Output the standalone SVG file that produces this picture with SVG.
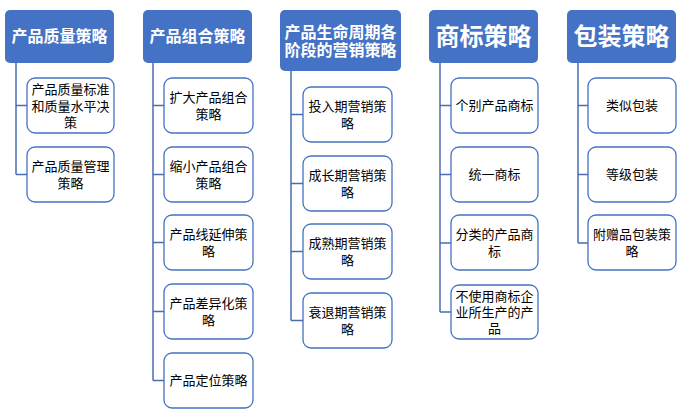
<svg xmlns="http://www.w3.org/2000/svg" width="685" height="417" viewBox="0 0 685 417">
<style>
.h{fill:#4472C4;}
.c{fill:#fff;stroke:#4472C4;stroke-width:1.3;}
.ht{fill:#fff;font-family:"Liberation Sans","Noto Sans CJK SC",sans-serif;font-weight:bold;font-size:16px;text-anchor:middle;dominant-baseline:central;}
.hb{font-size:24px;}
.ct{fill:#000;font-family:"Liberation Sans","Noto Sans CJK SC",sans-serif;font-size:13px;text-anchor:middle;dominant-baseline:central;}
.ln{fill:none;stroke:#4A6DB0;stroke-width:1.5;}
</style>
<g id="connectors">
<path class="ln" d="M16 63V174.5M16 105.5H27M16 174.5H27"/>
<path class="ln" d="M153 63V380.5M153 105.5H164M153 174.5H164M153 242.5H164M153 311.5H164M153 380.5H164"/>
<path class="ln" d="M291 71V320.5M291 114.5H303M291 183.5H303M291 251.5H303M291 320.5H303"/>
<path class="ln" d="M440 63V312M440 105.5H451M440 174.5H451M440 243H451M440 312H451"/>
<path class="ln" d="M578 63V243M578 105.5H588M578 174.5H588M578 243H588"/>
</g>
<g id="h1"><rect class="h" x="5" y="10" width="109" height="53" rx="5"/><text class="ht" x="59.5" y="36.5">产品质量策略</text></g>
<g id="h2"><rect class="h" x="143" y="10" width="109" height="53" rx="5"/><text class="ht" x="197.5" y="36.5">产品组合策略</text></g>
<g id="h3"><rect class="h" x="280" y="10" width="121" height="61" rx="5"/><text class="ht" x="340.5" y="32">产品生命周期各<tspan x="340.5" dy="18">阶段的营销策略</tspan></text></g>
<g id="h4"><rect class="h" x="429" y="10" width="109" height="53" rx="5"/><text class="ht hb" x="483.5" y="36.5">商标策略</text></g>
<g id="h5"><rect class="h" x="567" y="10" width="109" height="53" rx="5"/><text class="ht hb" x="621.5" y="36.5">包装策略</text></g>

<g id="c1a"><rect class="c" x="27" y="78" width="87" height="55" rx="8"/><text class="ct" x="70.5" y="89">产品质量标准<tspan x="70.5" dy="16.5">和质量水平决</tspan><tspan x="70.5" dy="16.5">策</tspan></text></g>
<g id="c1b"><rect class="c" x="27" y="147" width="87" height="55" rx="8"/><text class="ct" x="70.5" y="166">产品质量管理<tspan x="70.5" dy="16.5">策略</tspan></text></g>

<g id="c2a"><rect class="c" x="164" y="78" width="89" height="55" rx="8"/><text class="ct" x="208.5" y="97">扩大产品组合<tspan x="208.5" dy="16.5">策略</tspan></text></g>
<g id="c2b"><rect class="c" x="164" y="147" width="89" height="55" rx="8"/><text class="ct" x="208.5" y="166">缩小产品组合<tspan x="208.5" dy="16.5">策略</tspan></text></g>
<g id="c2c"><rect class="c" x="164" y="215" width="89" height="55" rx="8"/><text class="ct" x="208.5" y="234">产品线延伸策<tspan x="208.5" dy="16.5">略</tspan></text></g>
<g id="c2d"><rect class="c" x="164" y="284" width="89" height="55" rx="8"/><text class="ct" x="208.5" y="303">产品差异化策<tspan x="208.5" dy="16.5">略</tspan></text></g>
<g id="c2e"><rect class="c" x="164" y="353" width="89" height="55" rx="8"/><text class="ct" x="208.5" y="380">产品定位策略</text></g>

<g id="c3a"><rect class="c" x="303" y="87" width="89" height="55" rx="8"/><text class="ct" x="347.5" y="106">投入期营销策<tspan x="347.5" dy="16.5">略</tspan></text></g>
<g id="c3b"><rect class="c" x="303" y="156" width="89" height="55" rx="8"/><text class="ct" x="347.5" y="175">成长期营销策<tspan x="347.5" dy="16.5">略</tspan></text></g>
<g id="c3c"><rect class="c" x="303" y="224" width="89" height="55" rx="8"/><text class="ct" x="347.5" y="243">成熟期营销策<tspan x="347.5" dy="16.5">略</tspan></text></g>
<g id="c3d"><rect class="c" x="303" y="293" width="89" height="55" rx="8"/><text class="ct" x="347.5" y="312">衰退期营销策<tspan x="347.5" dy="16.5">略</tspan></text></g>

<g id="c4a"><rect class="c" x="451" y="78" width="87" height="55" rx="8"/><text class="ct" x="494.5" y="105.5">个别产品商标</text></g>
<g id="c4b"><rect class="c" x="451" y="147" width="87" height="55" rx="8"/><text class="ct" x="494.5" y="174.5">统一商标</text></g>
<g id="c4c"><rect class="c" x="451" y="215" width="87" height="55" rx="8"/><text class="ct" x="494.5" y="234">分类的产品商<tspan x="494.5" dy="16.5">标</tspan></text></g>
<g id="c4d"><rect class="c" x="451" y="285" width="87" height="54" rx="8"/><text class="ct" x="494.5" y="296">不使用商标企<tspan x="494.5" dy="16">业所生产的产</tspan><tspan x="494.5" dy="16">品</tspan></text></g>

<g id="c5a"><rect class="c" x="588" y="78" width="88" height="55" rx="8"/><text class="ct" x="632" y="105.5">类似包装</text></g>
<g id="c5b"><rect class="c" x="588" y="147" width="88" height="55" rx="8"/><text class="ct" x="632" y="174.5">等级包装</text></g>
<g id="c5c"><rect class="c" x="588" y="215" width="88" height="55" rx="8"/><text class="ct" x="632" y="234">附赠品包装策<tspan x="632" dy="16.5">略</tspan></text></g>
</svg>
